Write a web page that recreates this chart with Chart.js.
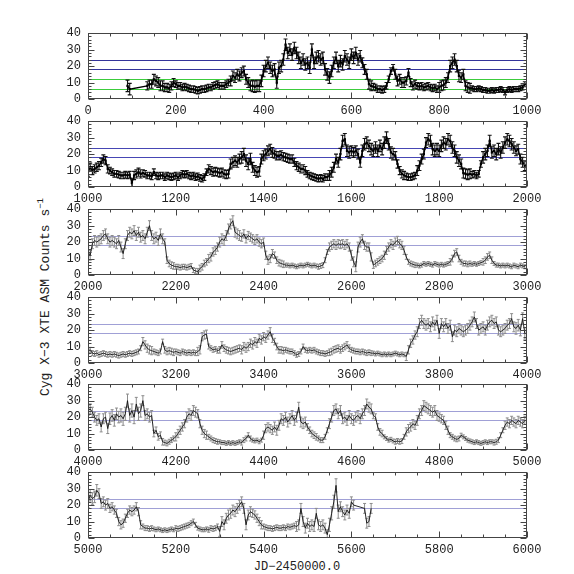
<!DOCTYPE html>
<html><head><meta charset="utf-8">
<script src="https://cdn.jsdelivr.net/npm/chart.js@4.4.0/dist/chart.umd.min.js"></script>
<style>
html,body{margin:0;padding:0;background:#fff;}
#wrap{position:relative;width:574px;height:574px;overflow:hidden;background:#fff;}
canvas{position:absolute;left:0;}
.ttl{position:absolute;font-family:"Liberation Mono",monospace;color:#222;white-space:nowrap;}
</style></head>
<body><div id="wrap">
<div class="ttl" style="left:44px;top:297px;font-size:13px;transform:translate(-50%,-50%) rotate(-90deg);">Cyg X&#8722;3 XTE ASM Counts s<sup style="font-size:9px;vertical-align:6px;">&#8722;1</sup></div>
<div class="ttl" style="left:297px;top:567px;font-size:12px;transform:translate(-50%,-50%);">JD&#8722;2450000.0</div>
</div>
<script>
// ---- data: count rates sampled every 5 days (start day per panel) ----
const STEP = 5;
const panelStarts = [0, 1000, 2000, 3000, 4000, 5000];
const blueLevels = [24, 18];
const greenLevels = [12, 6];
const xTickLabels = [0, 200, 400, 600, 800, 1000];
const yTickLabels = [0, 10, 20, 30, 40];

const rate1 = [
 null,null,null,null,null,null,null,null,null,null,null,null,null,null,null,null,null,null,8,6,
 null,null,null,null,null,null,null,8,9,9,12,11,10,8,8,7,7,6.5,8,10,
 9,8,8,7,7.5,7,6.5,6,6,5.5,5,5.5,6,6,6.5,7,7,8,8.5,9,
 8,8,8,9,10,11,14,13,15,14,16,17,12,10,8,8,7.5,8,8,11,
 17,20,22,19,17,18,10,19,20,24,33,28,30,27,31,28,25,22,24,21,
 22,19,30,22,25,26,24,25,18,15,13,17,22,25,20,23,21,26,24,22,
 27,25,28,24,26,22,18,15,9,8,7.5,7,6,6,5.5,6,8,12,17,19,
 15,11,12,10,10,11,16,10,8,9,8,7.5,8,7,7.5,8,7,6.5,7,6,
 7,8,8.5,10,13,20,22,24,20,14,13,15,8,7,6.5,6.5,6,6,6.5,6,
 5.5,5.5,5,5,5.5,5,5.5,5.5,6,5.5,4,5.5,6,5.5,6,6,6,6.5,7,9
];
const rate2 = [
 9,12,10,11,12,13,15,17,16,11,10,9,8,8,7.5,7,7,7.5,7,7.5,
 2.5,7,8,9,8,8.5,8,7,7,6.5,9,7,6.5,7,7,6,7,6.5,6,6.5,
 7,6,7,8,7.5,8,7,6.5,7,6,6.5,5.5,5,6,9,11,10,9,9.5,9,
 8.5,9,8,7.5,8,14,15,16,15,17,18,20,16,14,17,12,10,9,9.5,17,
 19,20,22,23,21,20,19,19,19.5,18.5,18,17.5,17,17,15,13,12,11,11,10,
 8,7,6.5,6,5.5,5,5.5,5,6,6,7,9,12,17,15,20,28,29,22,21,
 22,21,22,20,15,22,26,27,25,23,22,24,22,25,23,27,30,26,21,20,
 19,14,10,8,7,6.5,6,6,6.5,7,10,13,17,20,27,29,28,23,22,23,
 22,25,27,26,29,28,24,22,18,16,14,8.5,8,7.5,8,7.5,8,7,8,14,
 18,20,22,28,21,22,20,23,21,24,27,29,28,26,24,22,23,17,15,13
];
const rate3 = [
 14,12,19,21,20,21,22,24,25,22,20,21,20,19,21,17,13,19,24,26,
 25,27,24,26,23,24,22,26,30,24,22,23,21,25,22,20,9,7,6,5.5,
 5,5,4.5,5,5,4.5,5,5.5,3,2.5,2,4,5,7,8,10,11,14,15,17,
 20,22,21,24,28,31,33,26,25,24,23,25,22,24,23,22,21,22,20,19,
 20,12,9,10,13,12,9,7.5,7,6.5,6,6,5.5,6,5.5,5,5.5,6,5.5,6,
 6.5,6,5.5,6,5.5,5,5.5,6,9,14,17,18,19,18,19,18.5,19,18,19,17,
 12,8,5,17,20,22,18,17,17,11,6,7,8,9,10,12,15,17,19,18,
 20,21,19,18,15,11,8,7,6.5,6,6,5.5,6,7,6.5,7,6.5,6,7,6.5,
 6,6.5,6,6.5,7,8,10,13,14,10,8,7,7,6.5,7,6.5,7,6.5,7,7.5,
 8,9,11,12,9,7,6,6,5.5,6,5.5,6,5.5,5,6,5.5,5,6,5.5,5
];
const rate4 = [
 7,8,6,5.5,6,5,5.5,6,5.5,5,5.5,5,5.5,5,4.5,5,5.5,5,5.5,6,
 5.5,6,6.5,7,9,13,11,9,8,7.5,7,6.5,6,7,13,8,7,7.5,7,6.5,
 7,6.5,6,7,6.5,6,6.5,6,6.5,6,7,8,16,17,17.5,10,9,8,8.5,7.5,
 8,11,9,8,7.5,7,7.5,8,8.5,9,8,10,9,10,12,11,13,12,15,14,
 16,15,17,19,15,13,10,8,8,7.5,8,7.5,7,7,6,5,5.5,7,10,8,
 7.5,8,7.5,8,7,6.5,6,6,5.5,6,6.5,7,8,8.5,9,8,9,10,11,9,
 8,7.5,7,7,6.5,7,6.5,6,6.5,6,6,5.5,6,5.5,5,5.5,5,5.5,5,5.5,
 6,5.5,5,5.5,5,4,8,12,14,17,19,24,26,24,23,24,22,25,23,26,
 18,24,22,24,21,23,16,20,19,21,20,19,20,21,23,25,28,24,20,21,
 22,20,23,25,26,24,25,20,19,20,21,23,24,27,22,21,23,20,27,18
];
const rate5 = [
 24,25,23,20,18,19,14,19,20,13,19,21,18,22,20,21,19,22,30,21,
 24,20,28,22,24,30,21,22,20,21,10,12,8,9,5,4.5,4,5,6,7,
 8,10,12,14,16,20,22,21,24,23,22,16,12,10,9,8,7,6,5.5,5,
 5,4.5,4.5,4,4.5,4,4.5,4,4.5,5,4.5,6,7,9,7,6,5.5,6,5,6,
 9,13,14,13,12,14,12,15,19,18,20,17,19,21,18,20,26,17,16,17,
 14,12,10,9,8,7,6,6,8,12,16,20,24,25,22,24,19,20,18,21,
 19,18,20,21,19,22,24,28,26,25,21,20,14,11,10,8,7,6,6.5,5.5,
 5,5.5,5,5.5,8,11,13,14,16,15,18,22,24,27,26,25,24,23,24,21,
 20,19,18,15,12,9,8,7,6.5,7,9,8,7,6,5.5,5,4.5,5,4.5,4,
 4.5,5,4.5,5,5,4.5,5,6,9,12,15,17,16,18,17,16,18,17,16,18
];
const rate6 = [
 22,26,24,25,29,27,21,22,20,21,18,19,17,15,10,8,9,12,15,17,
 16,17,19,16,8,7,6,6,5.5,6,5.5,5,5.5,5,4.5,5,4.5,5,5.5,5,
 6,5.5,6,6.5,7,7.5,8,9,10,8,6,5.5,5,5,5.5,5,6,5.5,6,7,
 4,10,8,12,14,15,17,16,18,20,22,18,8,14,16,15,14,12,10,8,
 7,6.5,6,6,5.5,6,6.5,6,6,6.5,6,7,6.5,7,7.5,7,8,18,10,6,
 9,7,8,7,15,8,7,8,6,2,8,15,22,32,16,19,16,14,17,15,
 22,20,null,null,null,null,18,9,10,18
];
// 1-sigma errors per 25-day block
const err1 = [3.5,3.5,3.5,3.5,2.5,2.5,3,2.5,2,2,2,2,2,3,3,3.5,3.5,3.5,3.5,3.5,3.5,3.5,3.5,3.5,3.5,3,2,2,3,2.5,2,2,3,3.5,3,1.5,1.5,1.5,1.5,1.5];
const err2 = [2.5,2.5,2,2,2.5,2,2,2,2,2,2,2.5,2.5,3,3.5,3,3,2.5,2.5,2.5,2,2,3,3.5,3,3.5,3.5,3.5,2.5,2,3,3.5,3.5,3.5,3,2,3.5,3.5,3.5,3];
const err3 = [3,3,3,3,3,3,3,2,1.5,1.5,2,2.5,3,3,2.5,2.5,2.5,2,1.2,1.2,1.2,1.5,2.5,2.5,3,2.5,2,2.5,2.5,1.5,1.2,1.2,1.2,2,1.5,1.2,2,1.2,1.2,1.2];
const err4 = [1.5,1.5,1.5,1.5,1.5,2.5,1.5,2,1.5,1.5,2.5,1.5,2,2,2.5,2.5,2.5,2,1.5,1.5,1.5,1.5,2,2,1.5,1.5,1.2,1.2,1.2,2.5,3,3,3,3,3,3,3,3,3,3.5];
const err5 = [3,3,3.5,4,4,3,2,1.5,2.5,3,2.5,1.5,1.2,1.2,1.5,1.2,2.5,3,3,3,2,1.5,3,3,3,3,2,1.2,1.5,2.5,3,3,2.5,1.5,1.2,1.2,1.2,1.5,2.5,2.5];
const err6 = [3.5,3,2.5,2.5,2.5,1.5,1.2,1.2,1.5,1.5,1.2,1.5,3,3,3,2.5,1.5,1.5,1.5,3,3,3,4,3,3,3];

const rates = [rate1, rate2, rate3, rate4, rate5, rate6];
const errs = [err1, err2, err3, err4, err5, err6];

// ---- layout / style ----
const FONT = '"Liberation Mono", monospace';
const PANEL_TOP = [31, 119, 207, 295, 382, 470];
const PANEL_H = 68;
const PAD_TOP = 12, XAXIS_H = 20, CANVAS_H = PAD_TOP + PANEL_H + XAXIS_H;

const refLinePlugin = {
  id: 'refLines',
  beforeDatasetsDraw(chart) {
    const o = chart.options.plugins.refLines; if (!o) return;
    const {ctx, chartArea: a, scales: {y}} = chart;
    ctx.save();
    o.lines.forEach(l => {
      const py = Math.round(y.getPixelForValue(l.v)) + 0.5;
      ctx.strokeStyle = l.c; ctx.lineWidth = 1.2;
      ctx.beginPath(); ctx.moveTo(a.left, py); ctx.lineTo(a.right, py); ctx.stroke();
    });
    ctx.restore();
  }
};
const errPlugin = {
  id: 'errBars',
  beforeDatasetsDraw(chart) {
    const o = chart.options.plugins.errBars; if (!o) return;
    const {ctx, chartArea: a, scales: {x, y}} = chart;
    ctx.save();
    ctx.beginPath(); ctx.rect(a.left, a.top, a.right - a.left, a.bottom - a.top); ctx.clip();
    ctx.strokeStyle = o.color; ctx.lineWidth = o.width;
    ctx.beginPath();
    chart.data.datasets[0].data.forEach((p, i) => {
      if (p.y === null) return;
      const e = o.err[Math.min(Math.floor(i / 5), o.err.length - 1)];
      const px = x.getPixelForValue(p.x);
      const y1 = y.getPixelForValue(p.y - e), y2 = y.getPixelForValue(p.y + e);
      ctx.moveTo(px, y1); ctx.lineTo(px, y2);
      ctx.moveTo(px - o.cap, y1); ctx.lineTo(px + o.cap, y1);
      ctx.moveTo(px - o.cap, y2); ctx.lineTo(px + o.cap, y2);
    });
    ctx.stroke();
    ctx.restore();
  }
};
const framePlugin = {
  id: 'frame',
  afterDraw(chart) {
    const {ctx, chartArea: a, scales: {x, y}} = chart;
    const L = Math.round(a.left) + 0.5, R = Math.round(a.right) - 0.5;
    const T = Math.round(a.top) + 0.5, B = Math.round(a.bottom) - 0.5;
    ctx.save();
    ctx.strokeStyle = '#444'; ctx.lineWidth = 1;
    ctx.strokeRect(L, T, R - L, B - T);
    ctx.beginPath();
    for (let d = x.min; d <= x.max; d += 50) {
      const len = ((d - x.min) % 200 === 0) ? 6 : 3;
      const px = Math.round(x.getPixelForValue(d)) + 0.5;
      ctx.moveTo(px, B); ctx.lineTo(px, B - len);
      ctx.moveTo(px, T); ctx.lineTo(px, T + len);
    }
    for (let v = 0; v <= 40; v += 2) {
      const len = (v % 10 === 0) ? 6 : 3;
      const py = Math.round(y.getPixelForValue(v)) + 0.5;
      ctx.moveTo(L, py); ctx.lineTo(L + len, py);
      ctx.moveTo(R, py); ctx.lineTo(R - len, py);
    }
    ctx.stroke();
    ctx.restore();
  }
};

const wrap = document.getElementById('wrap');
panelStarts.forEach((start, k) => {
  const cv = document.createElement('canvas');
  cv.width = 574; cv.height = CANVAS_H;
  cv.style.top = (PANEL_TOP[k] - PAD_TOP) + 'px';
  cv.style.width = '574px'; cv.style.height = CANVAS_H + 'px';
  wrap.appendChild(cv);
  const dark = k < 2;
  const lines = blueLevels.map(v => ({v, c: k === 0 ? '#34349a' : (k === 1 ? '#4646b4' : '#a0a0d6')}));
  if (k === 0) greenLevels.forEach(v => lines.push({v, c: '#3ccc3c'}));
  const pts = rates[k].map((v, i) => ({x: start + STEP * i, y: v}));
  new Chart(cv, {
    type: 'line',
    data: {datasets: [{
      data: pts, spanGaps: true,
      borderColor: dark ? '#000' : '#111', borderWidth: dark ? 1.4 : 0.9,
      pointRadius: dark ? 1.6 : 0, pointStyle: 'rect',
      pointBackgroundColor: '#000', pointBorderWidth: 0, tension: 0
    }]},
    options: {
      responsive: false, animation: false, devicePixelRatio: 1,
      layout: {padding: {top: PAD_TOP, right: 47, left: 0, bottom: 0}},
      plugins: {
        legend: {display: false}, tooltip: {enabled: false},
        refLines: {lines},
        errBars: {err: errs[k], color: dark ? '#111' : '#8c8c8c', width: dark ? 1.1 : 1, cap: dark ? 2 : 1.5}
      },
      scales: {
        x: {
          type: 'linear', min: start, max: start + 1000,
          grid: {display: false, drawTicks: false}, border: {display: false},
          afterBuildTicks: s => { s.ticks = xTickLabels.map(v => ({value: start + v})); },
          ticks: {font: {family: FONT, size: 12}, color: '#222', padding: 5, maxRotation: 0, autoSkip: false,
                  callback: v => String(v)},
          afterFit: s => { s.height = XAXIS_H; }
        },
        y: {
          min: 0, max: 40,
          grid: {display: false, drawTicks: false}, border: {display: false},
          afterBuildTicks: s => { s.ticks = yTickLabels.map(v => ({value: v})); },
          ticks: {font: {family: FONT, size: 12}, color: '#222', padding: 7, autoSkip: false, callback: v => String(v)},
          afterFit: s => { s.width = 88; }
        }
      }
    },
    plugins: [refLinePlugin, errPlugin, framePlugin]
  });
});
</script>
</body></html>
